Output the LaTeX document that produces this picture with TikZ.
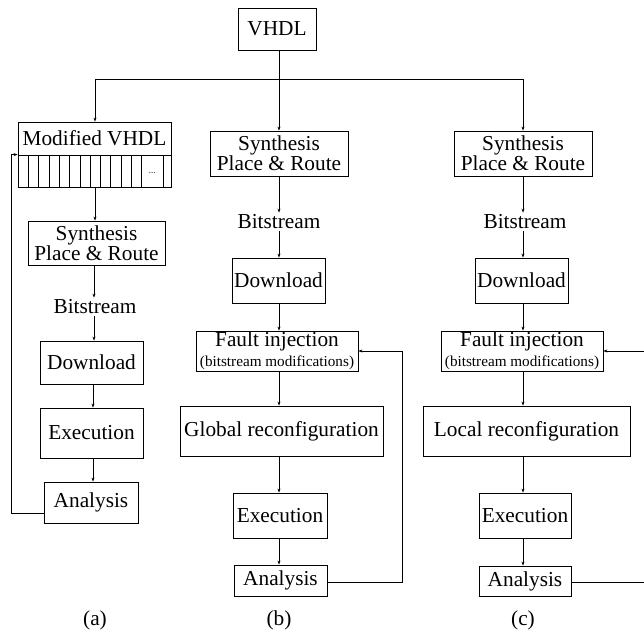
\documentclass[tikz,border=0pt]{standalone}
\usepackage{fontspec}
\setmainfont{Liberation Serif}
\usetikzlibrary{arrows.meta}
\begin{document}
\begin{tikzpicture}[x=1pt,y=-1pt,
  box/.style={draw,line width=0.8pt,rectangle,inner sep=0pt,align=center,font=\fontsize{21.3}{22}\selectfont},
  lbl/.style={inner sep=2pt,font=\fontsize{21.3}{22}\selectfont},
  conn/.style={line width=0.8pt},
  arr/.style={conn,-{Stealth[length=4pt,width=3pt]}}]
\useasboundingbox (0,0) rectangle (644,631);
% top
\node[box,minimum width=78,minimum height=42] (vhdl) at (277,29) {VHDL};
\coordinate (split) at (279,79);
\coordinate (colA) at (95,79);
\coordinate (colC) at (523,79);
% column a
\node[box,minimum width=153,minimum height=33] (modv) at (94.5,138.5) {Modified VHDL};
\node[draw,line width=0.8pt,minimum width=153,minimum height=32,inner sep=0pt] (cells) at (94.5,171) {};
\foreach \x in {28.3,38.6,48.9,59.2,69.5,79.8,90.1,100.4,110.7,121,131.3,141.6,163}
  \draw[line width=0.6pt] (\x,155) -- (\x,187);
\node[font=\fontsize{9}{9}\selectfont,inner sep=0pt] (dots) at (152.3,173) {...};
\node[box,minimum width=137,minimum height=44,font=\fontsize{21.3}{20}\selectfont] (synA) at (96.5,243) {Synthesis\\Place \& Route};
\node[lbl] (bitA) at (95,307) {Bitstream};
\node[box,minimum width=103,minimum height=43] (dlA) at (91.5,362.5) {Download};
\node[box,minimum width=103,minimum height=50] (exA) at (91.5,433) {Execution};
\node[box,minimum width=94,minimum height=41] (anA) at (91,502.5) {Analysis};
\node[lbl] (la) at (95,620) {(a)};
\coordinate (fbA) at (11,513);
% column b
\node[box,minimum width=138,minimum height=45,font=\fontsize{21.3}{20}\selectfont] (synB) at (279,153.5) {Synthesis\\Place \& Route};
\node[lbl] (bitB) at (279,222) {Bitstream};
\node[box,minimum width=93,minimum height=45] (dlB) at (278.5,280.5) {Download};
\node[box,minimum width=162,minimum height=40] (fiB) at (277,351) {Fault injection\\[-2pt]{\fontsize{15.2}{16}\selectfont(bitstream modifications)}};
\node[box,minimum width=203,minimum height=50] (glB) at (281.5,431) {Global reconfiguration};
\node[box,minimum width=94,minimum height=45] (exB) at (280,515.5) {Execution};
\node[box,minimum width=93,minimum height=31] (anB) at (280.5,580.5) {Analysis};
\node[lbl] (lb) at (279,620) {(b)};
\coordinate (fbB) at (402,582);
% column c
\node[box,minimum width=138,minimum height=45,font=\fontsize{21.3}{20}\selectfont] (synC) at (523,153.5) {Synthesis\\Place \& Route};
\node[lbl] (bitC) at (525,222) {Bitstream};
\node[box,minimum width=93,minimum height=45] (dlC) at (521.5,280.5) {Download};
\node[box,minimum width=162,minimum height=40] (fiC) at (522,351) {Fault injection\\[-2pt]{\fontsize{15.2}{16}\selectfont(bitstream modifications)}};
\node[box,minimum width=207,minimum height=50] (loC) at (526.5,431) {Local reconfiguration};
\node[box,minimum width=92,minimum height=45] (exC) at (525,515.5) {Execution};
\node[box,minimum width=92,minimum height=30] (anC) at (525,581) {Analysis};
\node[lbl] (lc) at (523,620) {(c)};
\coordinate (fbC) at (650,582);
% top connectors
\draw[conn] (colA) -- (colC);
\draw[arr] (vhdl.south -| split) -- (synB.north -| split);
\draw[arr] (colA) -- (modv.north -| colA);
\draw[arr] (colC) -- (synC.north -| colC);
% column a connectors
\draw[arr] (cells.south -| colA) -- (synA.north -| colA);
\draw[arr] (synA.south -| 94,0) -- (bitA.north -| 94,0);
\draw[arr] (bitA.south -| 94,0) -- (dlA.north -| 94,0);
\draw[arr] (dlA.south -| 93,0) -- (exA.north -| 93,0);
\draw[arr] (exA.south -| 93,0) -- (anA.north -| 93,0);
\draw[arr] (anA.west |- fbA) -- (fbA) -- (fbA |- cells.north) -- (cells.north west);
% column b connectors
\draw[arr] (synB.south -| split) -- (bitB.north -| split);
\draw[arr] (bitB.south -| split) -- (dlB.north -| split);
\draw[arr] (dlB.south -| split) -- (fiB.north -| split);
\draw[arr] (fiB.south -| split) -- (glB.north -| split);
\draw[arr] (glB.south -| split) -- (exB.north -| split);
\draw[arr] (exB.south -| split) -- (anB.north -| split);
\draw[arr] (anB.east |- fbB) -- (fbB) -- (fbB |- fiB.east) -- (fiB.east);
% column c connectors
\draw[arr] (synC.south -| colC) -- (bitC.north -| colC);
\draw[arr] (bitC.south -| colC) -- (dlC.north -| colC);
\draw[arr] (dlC.south -| colC) -- (fiC.north -| colC);
\draw[arr] (fiC.south -| colC) -- (loC.north -| colC);
\draw[arr] (loC.south -| colC) -- (exC.north -| colC);
\draw[arr] (exC.south -| colC) -- (anC.north -| colC);
\draw[arr] (anC.east |- fbC) -- (fbC) -- (fbC |- fiC.east) -- (fiC.east);
\end{tikzpicture}
\end{document}
